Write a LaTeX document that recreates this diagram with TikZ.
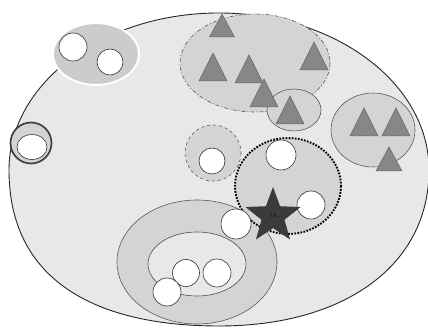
\documentclass[tikz,border=0pt]{standalone}
\usetikzlibrary{shapes.geometric}

\begin{document}
\begin{tikzpicture}[
x=1pt, y=1pt, yscale=-1,
region/.style={draw=black!85, line width=0.9pt, fill=black!9},
group/.style={draw=black!65, line width=0.6pt, fill=black!17},
dot/.style={draw=black!80, line width=0.6pt, fill=white},
tri/.style={draw=black!60, line width=0.5pt, fill=black!47},
leader/.style={star, star points=5, star point ratio=2.4, minimum size=58pt, inner sep=0pt, fill=black!77, text=black!95, font=\tiny}
]
\useasboundingbox (0,0) rectangle (428,328);

% ---------- MAIN REGION ----------

\draw[region] (9,170) arc [start angle=180, end angle=360, x radius=210, y radius=157]
  .. controls (429,265) and (345,326) .. (219,326)
  .. controls (95,326) and (9,280) .. cycle;

% ---------- LEFT GROUPS ----------

\draw[fill=black!20, draw=white, line width=2pt] (96,54) ellipse [x radius=43, y radius=31];
\draw[dot] (73,47) circle [radius=14];
\draw[dot] (110,62) circle [radius=13];

\draw[draw=black!75, line width=1.7pt, fill=black!17] (31,143) circle [radius=20.5];
\draw[dot] (32,147) ellipse [x radius=15, y radius=12.5];

% ---------- TRIANGLE GROUPS ----------

\draw[group, dash pattern=on 4pt off 2pt on 1pt off 2pt] (255,63) ellipse [x radius=75, y radius=49];
\draw[group] (294,110) ellipse [x radius=27, y radius=21];
\draw[group] (373,130) ellipse [x radius=42, y radius=37];

\draw[tri] (222,14) -- ++(-12.5,23) -- ++(25,0) -- cycle;
\foreach \px/\py in {213/53, 249/55, 264/79, 314/42, 290/96, 364/108, 396/108}
  \draw[tri] (\px,\py) -- ++(-14,28) -- ++(28,0) -- cycle;
\draw[tri] (389,147) -- ++(-13,24) -- ++(26,0) -- cycle;

% ---------- CIRCLE GROUPS ----------

\draw[group, dashed] (213,153) circle [radius=28];
\draw[dot] (212,161) circle [radius=13];

\draw[group] (197,262) ellipse [x radius=80, y radius=62];
\draw[draw=black!70, line width=0.6pt, fill=black!9] (197,264) ellipse [x radius=49, y radius=32];
\draw[dot] (186,273) circle [radius=13.5];
\draw[dot] (217,273) circle [radius=14];
\draw[dot] (167,292) circle [radius=14];

\draw[fill=black!17, line width=1.9pt, dash pattern=on 1.7pt off 1.4pt] (288,186) ellipse [x radius=53, y radius=48];
\draw[dot] (281,155) circle [radius=15];
\draw[dot] (311,205) circle [radius=14];
\draw[dot] (236,224) circle [radius=15];

\node[leader] (ja) at (273,216) {JA};

\end{tikzpicture}
\end{document}
